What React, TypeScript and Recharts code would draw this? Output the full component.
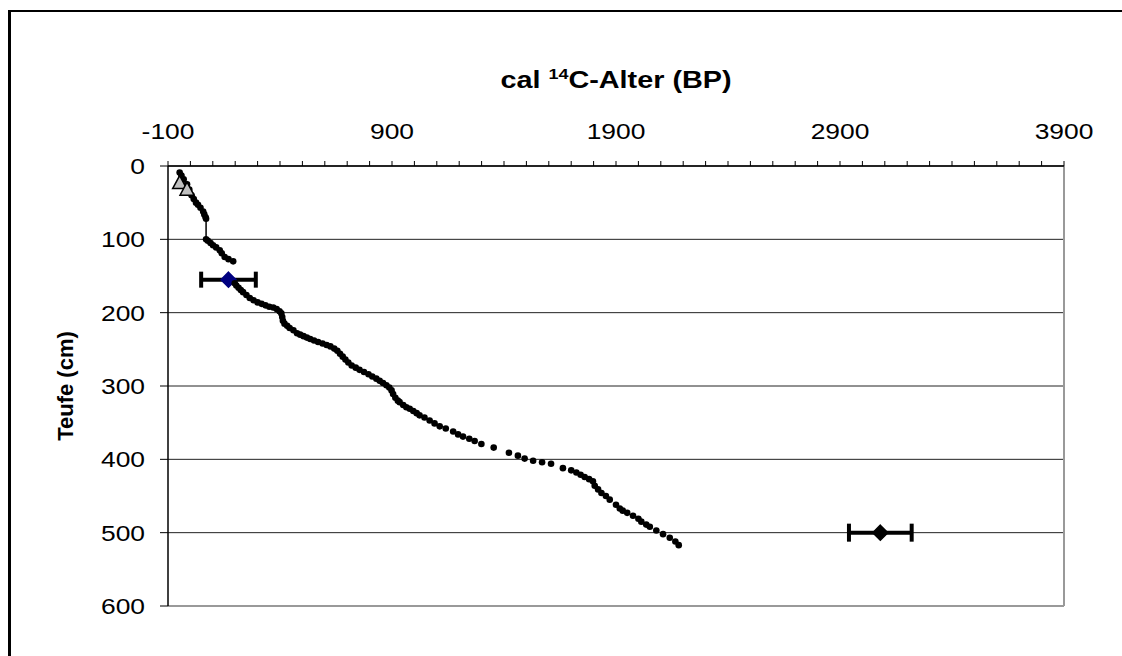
import React from 'react'
import {
  ScatterChart,
  Scatter,
  XAxis,
  YAxis,
  CartesianGrid,
  ErrorBar,
  ReferenceLine,
  Label,
} from 'recharts'

// upper part of the age model (points joined by a line)
const upperAge = [-48, -40, -30, -15, -5, 5, 15, 25, 34, 45, 57, 62, 68, 70, 70, 78, 90, 101, 115, 131, 140, 153, 170, 191]
const upperDepth = [9, 13, 18, 25, 32, 40, 45, 50, 53, 57, 62, 66, 70, 72, 100, 102, 105, 108, 111, 115, 119, 124, 127, 130]

// lower part of the age model (points only)
const lowerAge = [
  198, 205, 215, 225, 235, 250, 265, 282, 300, 318, 335, 352, 370, 385, 398, 406, 410, 413, 420, 432,
  443, 460, 476, 490, 505, 520, 535, 552, 570, 590, 608, 625, 642, 656, 668, 680, 692, 705, 720, 738,
  755, 775, 795, 812, 830, 845, 860, 875, 888, 898, 905, 915, 926, 934, 950, 964, 979, 995, 1010, 1023,
  1045, 1068, 1090, 1113, 1140, 1173, 1195, 1217, 1245, 1269, 1299, 1354, 1422, 1462, 1492, 1530, 1570, 1610, 1663, 1700,
  1723, 1742, 1760, 1780, 1797, 1805, 1820, 1835, 1855, 1872, 1900, 1917, 1930, 1950, 1976, 2000, 2013, 2035, 2051, 2080,
  2110, 2140, 2165, 2180,
]
const lowerDepth = [
  160, 163, 166, 169, 172, 176, 180, 183, 186, 188, 190, 192, 193, 195, 198, 201, 206, 211, 215, 218,
  221, 224, 228, 230, 232, 234, 236, 238, 240, 242, 244, 246, 249, 252, 256, 260, 264, 268, 272, 275,
  278, 281, 284, 287, 290, 293, 296, 299, 302, 306, 311, 316, 320, 322, 326, 329, 331, 334, 337, 340,
  343, 347, 351, 355, 358, 362, 366, 369, 372, 375, 379, 384, 391, 395, 399, 402, 404, 406, 412, 415,
  418, 421, 424, 427, 430, 436, 441, 446, 450, 455, 462, 467, 470, 473, 477, 481, 485, 489, 492, 497,
  502, 507, 512, 517,
]

// triangle markers
const triAge = [-48, -15]
const triDepth = [24, 33]

// 14C dates with error (years)
const c14Age = [170, 3080]
const c14Depth = [155, 500]
const c14Err = [122, 140]

const xTicks = [
  -100, 0, 100, 200, 300, 400, 500, 600, 700, 800, 900, 1000, 1100, 1200, 1300, 1400, 1500, 1600, 1700, 1800,
  1900, 2000, 2100, 2200, 2300, 2400, 2500, 2600, 2700, 2800, 2900, 3000, 3100, 3200, 3300, 3400, 3500, 3600,
  3700, 3800, 3900,
]
const xTickLabels = [-100, 900, 1900, 2900, 3900]
const yTicks = [0, 100, 200, 300, 400, 500, 600]

const upperData = upperAge.map((age, i) => ({ age, depth: upperDepth[i] }))
const lowerData = lowerAge.map((age, i) => ({ age, depth: lowerDepth[i] }))
const triData = triAge.map((age, i) => ({ age, depth: triDepth[i] }))
const dateBlue = [{ age: c14Age[0], depth: c14Depth[0], err: c14Err[0] }]
const dateBlack = [{ age: c14Age[1], depth: c14Depth[1], err: c14Err[1] }]

const FONT = '"Liberation Sans", Arial, sans-serif'
const STRETCH = 1.2 // the picture is wider than tall, text too

const Dot = (props: any) => <circle cx={props.cx} cy={props.cy} r={3.3} fill="#000" />

const Triangle = (props: any) => {
  const { cx, cy } = props
  return (
    <path
      d={`M${cx},${cy - 8}L${cx + 7},${cy + 5}L${cx - 7},${cy + 5}Z`}
      fill="#c0c0c0"
      stroke="#000"
      strokeWidth={1.5}
    />
  )
}

const makeDiamond = (fill: string, stroke: string) => (props: any) => {
  const { cx, cy } = props
  const r = 7.5
  return (
    <path
      d={`M${cx},${cy - r}L${cx + r},${cy}L${cx},${cy + r}L${cx - r},${cy}Z`}
      fill={fill}
      stroke={stroke}
      strokeWidth={1.5}
    />
  )
}

const XTick = (props: any) => {
  const { x, y, payload } = props
  if (!xTickLabels.includes(payload.value)) return <g />
  return (
    <g transform={`translate(${x},${y})`}>
      <text transform={`scale(${STRETCH},1)`} textAnchor="middle" fontFamily={FONT} fontSize={22} fill="#000">
        {payload.value}
      </text>
    </g>
  )
}

const YTick = (props: any) => {
  const { x, y, payload } = props
  return (
    <g transform={`translate(${x},${y})`}>
      <text transform={`scale(${STRETCH},1)`} textAnchor="end" dy="0.36em" fontFamily={FONT} fontSize={22} fill="#000">
        {payload.value}
      </text>
    </g>
  )
}

const XTitle = (props: any) => {
  const vb = props.viewBox || {}
  const cx = vb.width ? vb.x + vb.width / 2 : 605
  return (
    <g transform={`translate(${cx},76)`}>
      <text transform={`scale(${STRETCH},1)`} textAnchor="middle" fontFamily={FONT} fontSize={24} fontWeight="bold" fill="#000">
        cal <tspan dy={-9} fontSize={15}>14</tspan>
        <tspan dy={9}>C-Alter (BP)</tspan>
      </text>
    </g>
  )
}

const App: React.FC = () => {
  return (
    <div
      style={{
        position: 'fixed',
        left: 8,
        top: 10,
        right: 0,
        bottom: 0,
        overflow: 'hidden',
        borderLeft: '3px solid #000',
        borderTop: '2px solid #000',
        background: '#fff',
      }}
    >
      <ScatterChart
        width={1111}
        height={644}
        margin={{ top: 0, right: 58, bottom: 50, left: 0 }}
        style={{ fontFamily: FONT }}
      >
        <CartesianGrid vertical={false} stroke="#222" strokeWidth={1} />
        <XAxis
          type="number"
          dataKey="age"
          orientation="top"
          domain={[-100, 3900]}
          ticks={xTicks}
          interval={0}
          height={154}
          tickSize={5}
          tickMargin={22}
          tick={<XTick />}
          tickLine={{ stroke: '#000' }}
          axisLine={{ stroke: '#000', strokeWidth: 1.5 }}
        >
          <Label content={XTitle} />
        </XAxis>
        <YAxis
          type="number"
          dataKey="depth"
          domain={[0, 600]}
          reversed
          ticks={yTicks}
          interval={0}
          width={157}
          tickSize={8}
          tickMargin={15}
          tick={<YTick />}
          tickLine={{ stroke: '#000' }}
          axisLine={{ stroke: '#000', strokeWidth: 1.5 }}
        >
          <Label
            value="Teufe (cm)"
            angle={-90}
            position="insideLeft"
            offset={54}
            fontSize={22}
            fontWeight="bold"
            fill="#000"
            style={{ textAnchor: 'middle', fontWeight: 'bold', fontSize: 22, fill: '#000', fontFamily: FONT }}
          />
        </YAxis>
        <ReferenceLine y={600} stroke="#999" strokeWidth={2} />
        <ReferenceLine x={3900} stroke="#999" strokeWidth={2} />
        <Scatter data={dateBlue} shape={makeDiamond('#000080', '#000080')} isAnimationActive={false}>
          <ErrorBar dataKey="err" direction="x" width={8} strokeWidth={4} stroke="#000" isAnimationActive={false} />
        </Scatter>
        <Scatter
          data={upperData}
          shape={Dot}
          line={{ stroke: '#000', strokeWidth: 1.5 }}
          isAnimationActive={false}
        />
        <Scatter data={lowerData} shape={Dot} isAnimationActive={false} />
        <Scatter data={triData} shape={Triangle} isAnimationActive={false} />
        <Scatter data={dateBlack} shape={makeDiamond('#000', '#000')} isAnimationActive={false}>
          <ErrorBar dataKey="err" direction="x" width={9} strokeWidth={4} stroke="#000" isAnimationActive={false} />
        </Scatter>
      </ScatterChart>
    </div>
  )
}

export default App
